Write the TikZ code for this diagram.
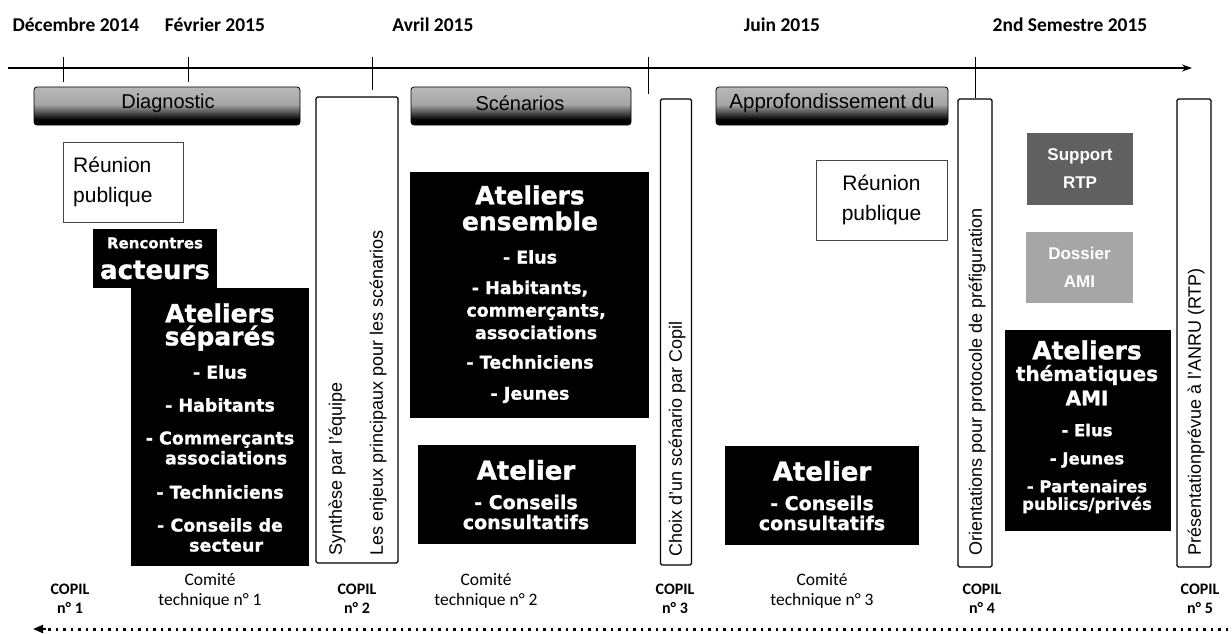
\documentclass[tikz,border=0pt]{standalone}
\usepackage{fontspec}
\setmainfont{Liberation Sans}
\newfontfamily\calib{Carlito}
\newfontfamily\heavy{DejaVu Sans}[BoldFeatures={FakeBold=1.2}]
\usetikzlibrary{arrows.meta,shadows}
\pgfdeclareverticalshading{barshade}{100bp}{color(0bp)=(black); color(32bp)=(black); color(52bp)=(gray!70); color(100bp)=(gray!40)}
\tikzset{
 toplbl/.style={font=\calib\bfseries\fontsize{19.5}{22}\selectfont, inner sep=0pt},
 botlbl/.style={font=\calib\bfseries\fontsize{16}{19}\selectfont, align=center, inner sep=0pt},
 comlbl/.style={font=\calib\fontsize{17.5}{20}\selectfont, align=center, inner sep=0pt},
 bar/.style={shading=barshade, draw=black, line width=0.8pt, rounded corners=3pt, inner sep=0pt},
 bartxt/.style={font=\fontsize{20}{22}\selectfont, inner sep=0pt},
 vbox/.style={draw=black, line width=1.2pt, fill=white, rounded corners=1.5pt, inner sep=0pt},
 vtxt/.style={rotate=90, anchor=west, font=\fontsize{18}{20}\selectfont, inner sep=0pt},
 blk/.style={fill=black, draw=black, inner sep=0pt},
 wttl/.style={text=white, font=\heavy\bfseries\fontsize{25}{28}\selectfont, inner sep=0pt},
 witm/.style={text=white, font=\heavy\bfseries\fontsize{17.5}{21}\selectfont, align=center, inner sep=0pt},
 reun/.style={draw=gray!55!black, line width=1pt, fill=white, inner sep=0pt, drop shadow={shadow xshift=1.2pt, shadow yshift=-1.2pt, fill=gray!70}},
 reuntxt/.style={font=\fontsize{21}{30}\selectfont, inner sep=0pt},
 gbox/.style={draw=none, inner sep=0pt},
 gtxt/.style={text=white, font=\bfseries\fontsize{17}{28}\selectfont, align=center, inner sep=0pt},
 tick/.style={line width=0.9pt},
}
\begin{document}
\begin{tikzpicture}[x=1pt,y=-1pt]
\useasboundingbox[fill=white] (0,0) rectangle (1232,634);

% top labels
\node[toplbl] (l1) at (76,25) {Décembre 2014};
\node[toplbl] (l2) at (215,25) {Février 2015};
\node[toplbl] (l3) at (433,25) {Avril 2015};
\node[toplbl] (l4) at (782,25) {Juin 2015};
\node[toplbl] (l5) at (1070,25) {2nd Semestre 2015};

% timeline
\coordinate (t0) at (8,68);
\coordinate (t1) at (1192,68);
\draw[line width=1.3pt, -{Stealth[length=10pt,width=7pt]}] (t0) -- (t1);
\draw[tick] (63,57) -- (63,82);
\draw[tick] (188,57) -- (188,82);
\draw[tick] (372,57) -- (372,90);
\draw[tick] (648,57) -- (648,94);

% header bars
\node[bar, minimum width=266pt, minimum height=38pt] (diag) at (167,106) {};
\node[bartxt] (diagt) at (168,103) {Diagnostic};
\node[bar, minimum width=220pt, minimum height=38pt] (scen) at (521,106) {};
\node[bartxt] (scent) at (520,103) {Scénarios};
\node[bar, minimum width=232pt, minimum height=38pt] (appr) at (832,106) {};
\node[bartxt, font=\fontsize{20.5}{22}\selectfont] (apprt) at (832,103) {Approfondissement du};

% vertical white boxes
\node[vbox, minimum width=82pt, minimum height=466pt] (synth) at (357,330) {};
\node[vtxt] (synt1) at (337,556) {Synthèse par l'équipe};
\node[vtxt] (synt2) at (378,556) {Les enjeux principaux pour les scénarios};
\node[vbox, minimum width=31pt, minimum height=466pt] (choix) at (676,332) {};
\node[vtxt] (choixt) at (677,557) {Choix d'un scénario par Copil};
\node[vbox, minimum width=34pt, minimum height=468pt] (orient) at (975,333) {};
\node[vtxt] (orientt) at (977,556) {Orientations pour protocole de préfiguration};
\node[vbox, minimum width=34pt, minimum height=468pt] (pres) at (1194,333) {};
\node[vtxt] (prest) at (1196,556) {Présentationprévue à l'ANRU (RTP)};
\draw[tick] (975,57) -- (orient.north);

% Réunion publique
\node[reun, minimum width=120pt, minimum height=80pt] (reun1) at (123,182) {};
\node[reuntxt, align=left, anchor=west] (reun1t) at (73,182) {Réunion\\publique};
\node[reun, minimum width=131pt, minimum height=80pt] (reun2) at (881.5,200) {};
\node[reuntxt, align=center] (reun2t) at (881.5,200) {Réunion\\publique};

% black boxes: diagnostic phase
\node[blk, minimum width=123pt, minimum height=58pt] (renc) at (154.5,258) {};
\node[text=white, font=\heavy\bfseries\fontsize{15}{17}\selectfont, inner sep=0pt] (renct1) at (155,243) {Rencontres};
\node[wttl, font=\heavy\bfseries\fontsize{26}{28}\selectfont] (renct2) at (155,270) {acteurs};

\node[blk, minimum width=177pt, minimum height=277pt] (sep) at (219.5,426.5) {};
\node[wttl] (sept1) at (220,313) {Ateliers};
\node[wttl] (sept2) at (220,338) {séparés};
\node[witm] (sepi1) at (220,372) {- Elus};
\node[witm] (sepi2) at (220,405) {- Habitants};
\node[witm, font=\heavy\bfseries\fontsize{17.5}{20}\selectfont] (sepi3) at (220,448) {- Commerçants\\\ \ associations};
\node[witm] (sepi4) at (220,492) {- Techniciens};
\node[witm, font=\heavy\bfseries\fontsize{17.5}{20}\selectfont] (sepi5) at (220,535) {- Conseils de\\\ \ secteur};

% scenarios phase
\node[blk, minimum width=238pt, minimum height=245pt] (ens) at (529,294.5) {};
\node[wttl] (enst1) at (530,195) {Ateliers};
\node[wttl] (enst2) at (530,221) {ensemble};
\node[witm] (ensi1) at (530,257) {- Elus};
\node[witm, font=\heavy\bfseries\fontsize{17.5}{22.5}\selectfont] (ensi2) at (530,310) {- Habitants,\\\ \ commerçants,\\\ \ associations};
\node[witm] (ensi3) at (530,362) {- Techniciens};
\node[witm] (ensi4) at (530,395) {- Jeunes};

\node[blk, minimum width=217pt, minimum height=98pt] (at1) at (526.5,494) {};
\node[wttl, font=\heavy\bfseries\fontsize{26}{28}\selectfont] (at1t) at (526,470) {Atelier};
\node[witm, font=\heavy\bfseries\fontsize{19}{20}\selectfont] (at1i) at (526,512) {- Conseils\\consultatifs};

% approfondissement phase
\node[blk, minimum width=193pt, minimum height=98pt] (at2) at (821.5,495) {};
\node[wttl, font=\heavy\bfseries\fontsize{26}{28}\selectfont] (at2t) at (822,471) {Atelier};
\node[witm, font=\heavy\bfseries\fontsize{19}{20}\selectfont] (at2i) at (822,513) {- Conseils\\consultatifs};

% 2nd semestre
\node[gbox, fill=gray!75!black, minimum width=106pt, minimum height=72pt] (supp) at (1080,169) {};
\node[gtxt] (suppt) at (1080,169) {Support\\RTP};
\node[gbox, fill=gray!70, minimum width=107pt, minimum height=71pt] (doss) at (1079.5,267.5) {};
\node[gtxt] (dosst) at (1079.5,267.5) {Dossier\\AMI};

\node[blk, minimum width=165pt, minimum height=200pt] (ami) at (1087.5,430) {};
\node[wttl] (amit1) at (1087,350) {Ateliers};
\node[wttl, font=\heavy\bfseries\fontsize{20}{22}\selectfont] (amit2) at (1087,375) {thématiques};
\node[wttl, font=\heavy\bfseries\fontsize{20}{22}\selectfont] (amit3) at (1087,398) {AMI};
\node[witm, font=\heavy\bfseries\fontsize{16.5}{18}\selectfont] (amii1) at (1087,430) {- Elus};
\node[witm, font=\heavy\bfseries\fontsize{16.5}{18}\selectfont] (amii2) at (1087,460) {- Jeunes};
\node[witm, font=\heavy\bfseries\fontsize{16.5}{17.5}\selectfont] (amii3) at (1087,496.5) {- Partenaires\\publics/privés};

% bottom labels
\node[botlbl] (c1) at (70,599) {COPIL\\n° 1};
\node[comlbl] (ct1) at (210,591) {Comité\\technique n° 1};
\node[botlbl] (c2) at (357,599) {COPIL\\n° 2};
\node[comlbl] (ct2) at (486,591) {Comité\\technique n° 2};
\node[botlbl] (c3) at (675,599) {COPIL\\n° 3};
\node[comlbl] (ct3) at (822,591) {Comité\\technique n° 3};
\node[botlbl] (c4) at (982,599) {COPIL\\n° 4};
\node[botlbl] (c5) at (1200,599) {COPIL\\n° 5};

% bottom dotted arrow
\coordinate (b0) at (1228,629);
\coordinate (b1) at (46,629);
\coordinate (b2) at (33,629);
\draw[line width=3pt, dash pattern=on 2.5pt off 5pt] (b0) -- (b1);
\draw[line width=2pt, -{Triangle[length=10pt,width=8pt]}] (b1) -- (b2);
\end{tikzpicture}
\end{document}
